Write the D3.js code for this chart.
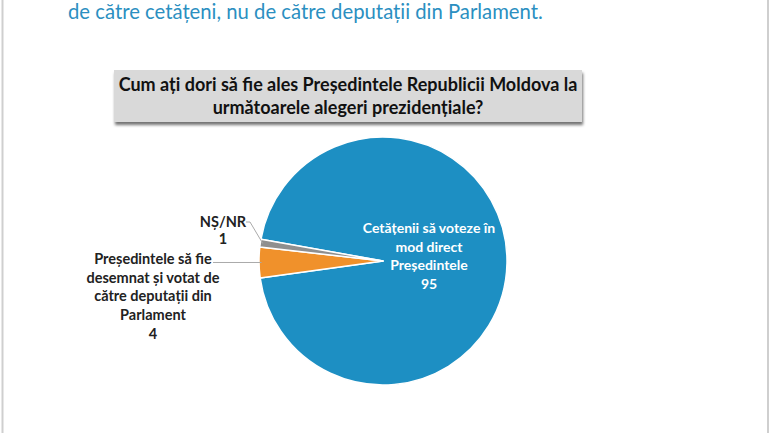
<!DOCTYPE html>
<html><head><meta charset="utf-8">
<script src="https://cdn.jsdelivr.net/npm/d3@7"></script>
<style>html,body{margin:0;padding:0;background:#fff;}svg{display:block;}</style>
</head><body>
<script>
const categories = ["Cetățenii să voteze în mod direct Președintele", "Președintele să fie desemnat și votat de către deputații din Parlament", "NȘ/NR"];
const values = [95, 4, 1];
const colors = ["#1d8fc3", "#f0912b", "#8f8f8f"];
const labelLines = [
  ["Cetățenii să voteze în", "mod direct", "Președintele", "95"],
  ["Președintele să fie", "desemnat și votat de", "către deputații din", "Parlament", "4"],
  ["NȘ/NR", "1"]
];
const titleLines = ["Cum ați dori să fie ales Președintele Republicii Moldova la", "următoarele alegeri prezidențiale?"];
const headerText = "de către cetățeni, nu de către deputații din Parlament.";

const W = 770, H = 433;
const svg = d3.select("body").append("svg").attr("width", W).attr("height", H);
const defs = svg.append("defs");
const f = defs.append("filter").attr("id", "sh").attr("x", "-5%").attr("y", "-20%").attr("width", "115%").attr("height", "160%");
f.append("feDropShadow").attr("dx", 1).attr("dy", 3).attr("stdDeviation", 1.5).attr("flood-color", "#000").attr("flood-opacity", 0.55);

// page borders
svg.append("rect").attr("x", 0).attr("y", 0).attr("width", W).attr("height", H).attr("fill", "#fff");
svg.append("line").attr("x1", 2.5).attr("x2", 2.5).attr("y1", 0).attr("y2", H).attr("stroke", "#cfcfcf").attr("stroke-width", 2);
svg.append("line").attr("x1", 768).attr("x2", 768).attr("y1", 0).attr("y2", H).attr("stroke", "#cfcfcf").attr("stroke-width", 2);

// header text
svg.append("text").attr("x", 68).attr("y", 19).attr("font-family", "Lato").attr("font-size", 20.3)
  .attr("fill", "#2b8fc1").text(headerText);

// title box
const bx = 114, by = 70, bw = 468, bh = 52;
svg.append("rect").attr("x", bx).attr("y", by).attr("width", bw).attr("height", bh)
  .attr("fill", "#d9d9d9").attr("filter", "url(#sh)");
svg.append("g").selectAll("text").data(titleLines).join("text")
  .attr("x", bx + bw / 2).attr("y", (d, i) => 91 + i * 23)
  .attr("text-anchor", "middle").attr("font-family", "Lato").attr("font-weight", "bold")
  .attr("font-size", 18).attr("fill", "#111").text(d => d);

// pie
const cx = 383, cy = 261, r = 124;
const start = 280.1 * Math.PI / 180;
const pie = d3.pie().sort(null).startAngle(start).endAngle(start + 2 * Math.PI);
const arcs = pie(values);
const arc = d3.arc().innerRadius(0).outerRadius(r);
const g = svg.append("g").attr("transform", `translate(${cx},${cy})`);
g.selectAll("path").data(arcs).join("path")
  .attr("d", arc).attr("fill", (d, i) => colors[i])
  .attr("stroke", "#fff").attr("stroke-width", 1.5).attr("stroke-linejoin", "round");

const font = "Lato";
// blue label inside
const bl = g.append("text").attr("text-anchor", "middle").attr("font-family", font).attr("font-weight", "bold")
  .attr("font-size", 14).attr("fill", "#fff");
labelLines[0].forEach((t, i) => bl.append("tspan").attr("x", 46).attr("y", -28 + i * 18.7).text(t));

// orange label outside
const ol = svg.append("text").attr("text-anchor", "middle").attr("font-family", font).attr("font-weight", "bold")
  .attr("font-size", 14.5).attr("fill", "#222");
labelLines[1].forEach((t, i) => ol.append("tspan").attr("x", 153).attr("y", 264 + i * 18.7).text(t));

// gray label outside
const gl = svg.append("text").attr("text-anchor", "middle").attr("font-family", font).attr("font-weight", "bold")
  .attr("font-size", 14.5).attr("fill", "#222");
labelLines[2].forEach((t, i) => gl.append("tspan").attr("x", 223).attr("y", 227 + i * 16.5).text(t));

// leader lines
const oMid = (arcs[1].startAngle + arcs[1].endAngle) / 2;
const gMid = (arcs[2].startAngle + arcs[2].endAngle) / 2;
const pt = (a, rr) => [cx + rr * Math.sin(a), cy - rr * Math.cos(a)];
const op = pt(oMid, r * 0.98);
svg.append("polyline").attr("points", [[213, op[1]], op].map(p => p.join(",")).join(" "))
  .attr("fill", "none").attr("stroke", "#aaa").attr("stroke-width", 1);
const gp = pt(gMid, r * 0.98);
svg.append("polyline").attr("points", [[246, 222], [250, 222], gp].map(p => p.join(",")).join(" "))
  .attr("fill", "none").attr("stroke", "#aaa").attr("stroke-width", 1);
</script>
</body></html>
